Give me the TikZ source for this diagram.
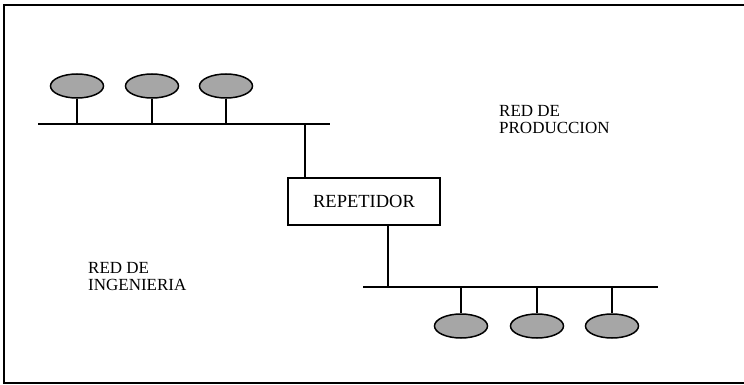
\documentclass[tikz,border=0pt]{standalone}
\usepackage{fontspec}
\setmainfont{Liberation Serif}
\usetikzlibrary{shapes.geometric}
\begin{document}
\begin{tikzpicture}[x=1pt,y=-1pt,
  wire/.style={line width=1.2pt,black},
  host/.style={ellipse,draw=black,line width=1.5pt,fill=black!35,minimum width=53pt,minimum height=24pt,inner sep=0pt},
  repbox/.style={draw=black,line width=1.2pt,minimum width=152pt,minimum height=47pt,inner sep=0pt,font=\fontsize{18.5}{20}\selectfont},
  lbl/.style={anchor=north west,align=left,inner sep=0pt,font=\fontsize{17}{17.5}\selectfont}]
\useasboundingbox (0,0) rectangle (744,385);
% frame
\draw[line width=1.3pt] (744,5) -- (4,5) -- (4,383) -- (744,383);
% upper network
\coordinate (b1l) at (38,124);
\coordinate (b1r) at (330,124);
\draw[wire] (b1l) -- (b1r);
\node[host] (e1) at (77,86) {};
\node[host] (e2) at (152,86) {};
\node[host] (e3) at (226,86) {};
\coordinate (t1) at (77,124);
\coordinate (t2) at (152,124);
\coordinate (t3) at (226,124);
\draw[wire] (e1.south) -- (t1);
\draw[wire] (e2.south) -- (t2);
\draw[wire] (e3.south) -- (t3);
% repeater
\node[repbox] (rep) at (364,201.5) {REPETIDOR};
\coordinate (tu) at (305,124);
\draw[wire] (tu) -- (tu |- rep.north);
% lower network
\coordinate (b2l) at (363,287);
\coordinate (b2r) at (658,287);
\draw[wire] (b2l) -- (b2r);
\coordinate (td) at (388,287);
\draw[wire] (rep.south -| td) -- (td);
\node[host] (e4) at (461,326) {};
\node[host] (e5) at (537,326) {};
\node[host] (e6) at (612,326) {};
\coordinate (t4) at (461,287);
\coordinate (t5) at (537,287);
\coordinate (t6) at (612,287);
\draw[wire] (t4) -- (e4.north);
\draw[wire] (t5) -- (e5.north);
\draw[wire] (t6) -- (e6.north);
% labels
\node[lbl] (lp) at (499,105) {RED DE\\PRODUCCION};
\node[lbl] (li) at (88,262) {RED DE\\INGENIERIA};
\end{tikzpicture}
\end{document}
